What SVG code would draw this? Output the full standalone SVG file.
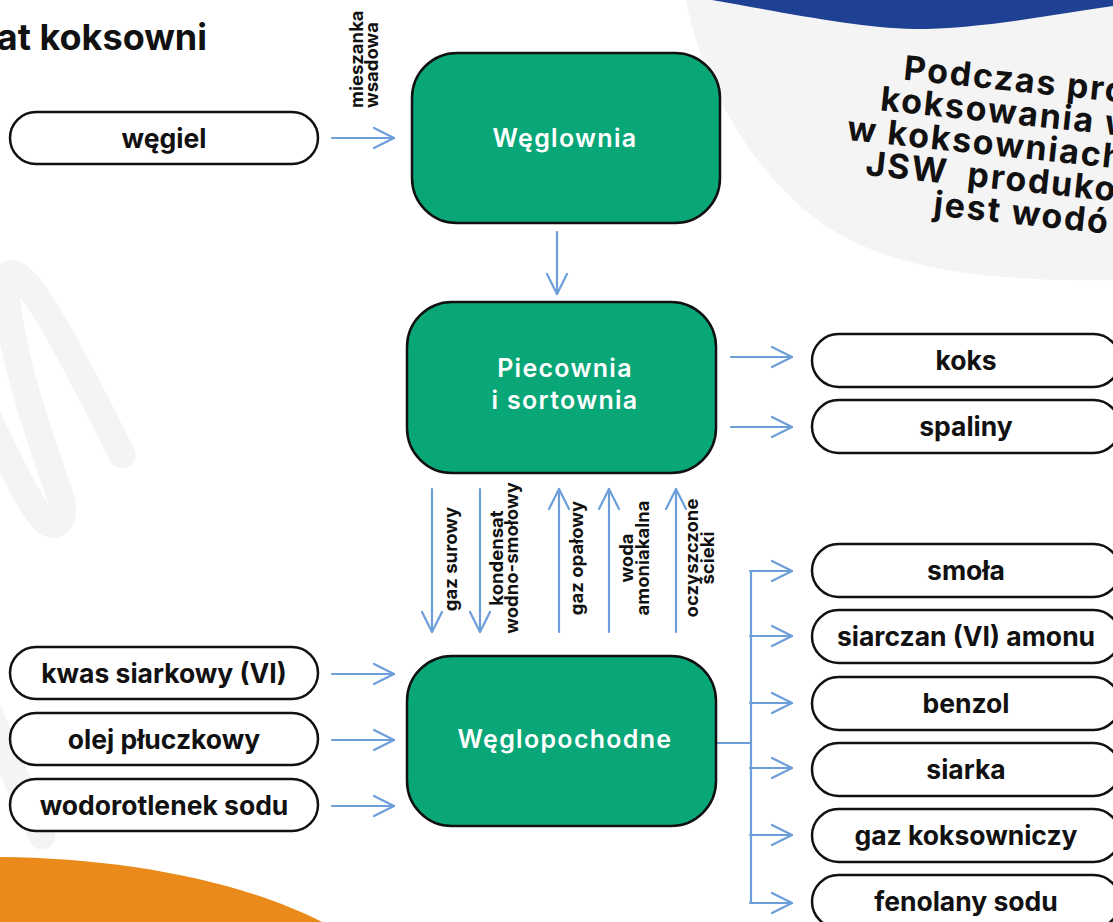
<svg xmlns="http://www.w3.org/2000/svg" width="1113" height="922" viewBox="0 0 1113 922">
<style>
text{font-family:Inter,"Liberation Sans",sans-serif;font-weight:700;fill:#111}
.box{fill:#09a678;stroke:#111;stroke-width:2.5}
.boxt{fill:#fff;font-size:25px;font-weight:600;letter-spacing:1.3px;text-anchor:middle}
.pill{fill:#fff;stroke:#111;stroke-width:2.5}
.pt{font-size:26.5px;text-anchor:middle}
.lbl{font-size:18.5px}
.ar{fill:none;stroke:#6c9fd9;stroke-width:2.2;stroke-linecap:round;marker-end:url(#ah)}
.ln{fill:none;stroke:#6c9fd9;stroke-width:2.2}
.big{font-size:34px;letter-spacing:1.8px;white-space:pre}
</style>
<defs>
<marker id="ah" viewBox="-23 -12 25 24" markerWidth="25" markerHeight="24" refX="0" refY="0" orient="auto" markerUnits="userSpaceOnUse">
<path d="M-20,-10 L0,0 L-20,10" fill="none" stroke="#6c9fd9" stroke-width="2.2" stroke-linecap="round" stroke-linejoin="round"/>
</marker>
</defs>
<rect width="1113" height="922" fill="#fff"/>
<g id="background">
<path d="M122,455 C95,400 50,310 25,282 C12,268 4,272 6,292 C10,350 40,440 60,495 C68,522 55,532 42,518 C28,500 10,465 -25,390" fill="none" stroke="#f4f4f4" stroke-width="27" stroke-linecap="round" stroke-linejoin="round"/>
<path d="M-20,690 C0,740 25,800 42,836" fill="none" stroke="#f4f4f4" stroke-width="27" stroke-linecap="round"/>
<path d="M686,0 C705,100 770,200 850,240 C920,275 1020,282 1113,280 L1113,0 Z" fill="#f4f4f4"/>
<path d="M712,0 C780,12 860,28 913,29 C980,29 1050,15 1113,6 L1113,0 Z" fill="#1f4193"/>
<path d="M0,857 C120,858 240,880 322,922 L0,922 Z" fill="#e98a1b"/>
</g>
<text id="title" x="207" y="50" font-size="36" text-anchor="end">at koksowni</text>
<g id="note" transform="rotate(6 1000 150)">
<text class="big" x="896" y="90">Podczas pro</text>
<text class="big" x="876" y="123">koksowania w</text>
<text class="big" x="846" y="156">w koksowniach</text>
<text class="big" x="868" y="189">JSW  produko</text>
<text class="big" x="940" y="222">jest wodó</text>
</g>
<g id="connectors">
<path class="ar" d="M332,138 H394"/>
<path class="ar" d="M557,232 V294"/>
<path class="ar" d="M731,357 H792"/>
<path class="ar" d="M731,427 H792"/>
<path class="ar" d="M432,489 V632"/>
<path class="ar" d="M480,489 V632"/>
<path class="ar" d="M559,632 V489"/>
<path class="ar" d="M609,632 V489"/>
<path class="ar" d="M676,632 V489"/>
<path class="ar" d="M332,674 H394"/>
<path class="ar" d="M332,740 H394"/>
<path class="ar" d="M332,806 H394"/>
<path class="ln" d="M716,743 H751 M751,570 V904"/>
<path class="ar" d="M750,571 H792"/>
<path class="ar" d="M750,636 H792"/>
<path class="ar" d="M750,703 H792"/>
<path class="ar" d="M750,768 H792"/>
<path class="ar" d="M750,835 H792"/>
<path class="ar" d="M750,903 H792"/>
</g>
<g id="labels">
<text class="lbl" transform="translate(363,108) rotate(-90)">mieszanka</text>
<text class="lbl" transform="translate(378,108) rotate(-90)">wsadowa</text>
<text class="lbl" text-anchor="middle" transform="translate(457,559) rotate(-90)">gaz surowy</text>
<text class="lbl" text-anchor="middle" transform="translate(503,558) rotate(-90)">kondensat</text>
<text class="lbl" text-anchor="middle" transform="translate(518,558) rotate(-90)">wodno-smołowy</text>
<text class="lbl" text-anchor="middle" transform="translate(583,558) rotate(-90)">gaz opałowy</text>
<text class="lbl" text-anchor="middle" transform="translate(633,558) rotate(-90)">woda</text>
<text class="lbl" text-anchor="middle" transform="translate(649,558) rotate(-90)">amoniakalna</text>
<text class="lbl" text-anchor="middle" transform="translate(698,558) rotate(-90)">oczyszczone</text>
<text class="lbl" text-anchor="middle" transform="translate(714,558) rotate(-90)">ścieki</text>
</g>
<g id="weglownia"><rect class="box" x="412" y="53" width="308" height="170" rx="45"/><text class="boxt" x="565" y="147">Węglownia</text></g>
<g id="piecownia"><rect class="box" x="407" y="302" width="309" height="171" rx="45"/><text class="boxt" x="565" y="377">Piecownia</text><text class="boxt" x="565" y="409">i sortownia</text></g>
<g id="weglopochodne"><rect class="box" x="407" y="656" width="309" height="170" rx="45"/><text class="boxt" x="565" y="748">Węglopochodne</text></g>
<g id="wegiel"><rect class="pill" x="10" y="112" width="308" height="52" rx="26"/><text class="pt" x="164" y="148">węgiel</text></g>
<g id="kwas"><rect class="pill" x="10" y="647" width="308" height="52" rx="26"/><text class="pt" x="164" y="683">kwas siarkowy (VI)</text></g>
<g id="olej"><rect class="pill" x="10" y="713" width="308" height="52" rx="26"/><text class="pt" x="164" y="749">olej płuczkowy</text></g>
<g id="wodorotlenek"><rect class="pill" x="10" y="779" width="308" height="52" rx="26"/><text class="pt" x="164" y="815">wodorotlenek sodu</text></g>
<g id="koks"><rect class="pill" x="812" y="334" width="308" height="53" rx="26.5"/><text class="pt" x="966" y="370">koks</text></g>
<g id="spaliny"><rect class="pill" x="812" y="400" width="308" height="53" rx="26.5"/><text class="pt" x="966" y="436">spaliny</text></g>
<g id="smola"><rect class="pill" x="812" y="544" width="308" height="53" rx="26.5"/><text class="pt" x="966" y="580">smoła</text></g>
<g id="siarczan"><rect class="pill" x="812" y="610" width="308" height="53" rx="26.5"/><text class="pt" x="966" y="646">siarczan (VI) amonu</text></g>
<g id="benzol"><rect class="pill" x="812" y="677" width="308" height="53" rx="26.5"/><text class="pt" x="966" y="713">benzol</text></g>
<g id="siarka"><rect class="pill" x="812" y="743" width="308" height="53" rx="26.5"/><text class="pt" x="966" y="779">siarka</text></g>
<g id="gaz"><rect class="pill" x="812" y="809" width="308" height="53" rx="26.5"/><text class="pt" x="966" y="845">gaz koksowniczy</text></g>
<g id="fenolany"><rect class="pill" x="812" y="875" width="308" height="53" rx="26.5"/><text class="pt" x="966" y="911">fenolany sodu</text></g>
</svg>
